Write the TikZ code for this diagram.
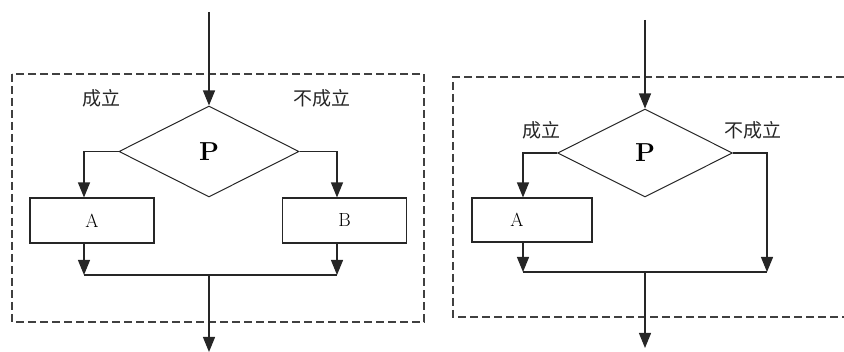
\documentclass[tikz,border=0pt]{standalone}
\usepackage{fontspec}
\newfontfamily\cjk{Noto Sans CJK SC}
\usetikzlibrary{arrows.meta,shapes.geometric,positioning,calc}

\begin{document}
\begin{tikzpicture}[
  x=1pt, y=-1pt,
  > = {Triangle[length=15pt,width=12pt]},
  flow/.style = {draw=black!85, line width=1.2pt},
  test/.style = {draw=black!85, diamond, line width=1pt, minimum width=180pt, minimum height=91pt, inner sep=0pt, font=\fontsize{26}{30}\selectfont\bfseries},
  block/.style = {draw=black!85, rectangle, line width=1.1pt, minimum width=124pt, minimum height=45pt, inner sep=0pt, font=\fontsize{19}{22}\selectfont},
  frame/.style = {draw=black!75, line width=1.2pt, dash pattern=on 8pt off 4pt},
  tag/.style = {font=\cjk\fontsize{19}{22}\selectfont, text=black!85}
  ]
	\useasboundingbox (0,0) rectangle (844,352);

	% if P then A else B
	\draw[frame] (12,74) rectangle (424,322);

	\coordinate (in1) at (209,12);
	\coordinate (j1) at (209,275);
	\coordinate (out1) at (209,352);

	\node[test] (p1) at (209,151.5) {P};
	\node[block] (a1) at (92,220.5) {A};
	\node[block] (b1) at (344.5,220.5) {B};
	\node[tag] (yes1) at (101,98) {成立};
	\node[tag] (no1) at (322,98) {不成立};

	\draw[flow,->] (in1) -- (p1.north);
	\draw[flow,->] (p1.west) -| ([xshift=-8pt]a1.north);
	\draw[flow,->] (p1.east) -| ([xshift=-7.5pt]b1.north);
	\draw[flow,->] ([xshift=-8pt]a1.south) -- ([xshift=-8pt]a1.south |- j1);
	\draw[flow,->] ([xshift=-7.5pt]b1.south) -- ([xshift=-7.5pt]b1.south |- j1);
	\draw[flow] ([xshift=-8pt]a1.south |- j1) -- ([xshift=-7.5pt]b1.south |- j1);
	\draw[flow,->] (j1) -- (out1);

	% if P then A
	\draw[frame] (844,77) -| (453,317) -- (844,317);

	\coordinate (in2) at (645,20);
	\coordinate (j2) at (645,272);
	\coordinate (r2) at (767,272);
	\coordinate (out2) at (645,348);

	\node[test, minimum width=175pt, minimum height=88pt] (p2) at (645,153) {P};
	\node[block, minimum width=120pt, minimum height=44pt] (a2) at (532,220) {A\hspace*{30pt}};
	\node[tag] (yes2) at (541,130) {成立};
	\node[tag] (no2) at (753,130) {不成立};

	\draw[flow,->] (in2) -- (p2.north);
	\draw[flow,->] (p2.west) -| ([xshift=-9pt]a2.north);
	\draw[flow,->] (p2.east) -| (r2);
	\draw[flow,->] ([xshift=-9pt]a2.south) -- ([xshift=-9pt]a2.south |- j2);
	\draw[flow] ([xshift=-9pt]a2.south |- j2) -- (r2);
	\draw[flow,->] (j2) -- (out2);

\end{tikzpicture}
\end{document}
